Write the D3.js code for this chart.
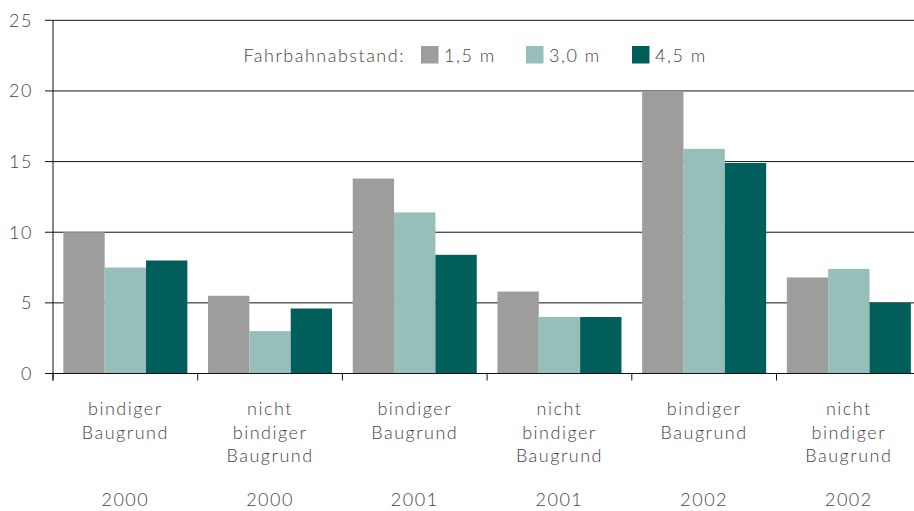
<!DOCTYPE html>
<html>
<head>
<meta charset="utf-8">
<script src="https://cdn.jsdelivr.net/npm/d3@7"></script>
<style>
  body { margin: 0; background: #fff; }
  svg text { font-family: Lato, "DejaVu Sans", sans-serif; font-weight: 300; fill: #444; letter-spacing: 1.5px; }
</style>
</head>
<body>
<div id="chart"></div>
<script>
// chart data
var categories = ["bindiger\nBaugrund", "nicht\nbindiger\nBaugrund", "bindiger\nBaugrund",
                  "nicht\nbindiger\nBaugrund", "bindiger\nBaugrund", "nicht\nbindiger\nBaugrund"];
var years = ["2000", "2000", "2001", "2001", "2002", "2002"];
var seriesNames = ["1,5 m", "3,0 m", "4,5 m"];
var values15 = [10.0, 5.5, 13.8, 5.8, 20.0, 6.8];
var values30 = [7.5, 3.0, 11.4, 4.0, 15.9, 7.4];
var values45 = [8.0, 4.6, 8.4, 4.0, 14.9, 5.0];
var yTicks = [0, 5, 10, 15, 20, 25];
var colors = ["#9d9d9b", "#96bfba", "#005f5a"];

var width = 914, height = 511;
var plotLeft = 53, plotTop = 20.3, plotBottom = 373.5;

var svg = d3.select("#chart").append("svg")
    .attr("width", width).attr("height", height);

var y = d3.scaleLinear().domain([0, 25]).range([plotBottom, plotTop]);

// groups are a bit wider than the window, last one is cut at the edge
var x0 = d3.scaleBand().domain(d3.range(categories.length)).range([plotLeft, plotLeft + 6 * 144.7]);
var x1 = d3.scaleBand().domain(d3.range(3)).range([0, x0.bandwidth()]).paddingOuter(0.25);

var allValues = [values15, values30, values45];

// grid lines
svg.append("g").selectAll("line").data(yTicks).enter().append("line")
    .attr("x1", plotLeft - 8).attr("x2", width)
    .attr("y1", function(d) { return y(d); })
    .attr("y2", function(d) { return y(d); })
    .attr("stroke", "#111").attr("stroke-width", 1);

// y labels
svg.append("g").selectAll("text").data(yTicks).enter().append("text")
    .attr("x", 33).attr("y", function(d) { return y(d); })
    .attr("dy", "0.36em")
    .attr("text-anchor", "end")
    .style("font-size", "18px")
    .text(function(d) { return d; });

// bars
var groups = svg.append("g").selectAll("g").data(categories).enter().append("g")
    .attr("transform", function(d, i) { return "translate(" + x0(i) + ",0)"; });

groups.selectAll("rect")
    .data(function(d, i) { return allValues.map(function(s, k) { return { k: k, v: s[i] }; }); })
    .enter().append("rect")
    .attr("x", function(d) { return x1(d.k); })
    .attr("width", x1.bandwidth())
    .attr("y", function(d) { return y(d.v); })
    .attr("height", function(d) { return y(0) - y(d.v); })
    .attr("fill", function(d) { return colors[d.k]; });

// axes lines
svg.append("line").attr("x1", plotLeft).attr("x2", plotLeft).attr("y1", plotTop).attr("y2", plotBottom + 7)
    .attr("stroke", "#111");
svg.append("line").attr("x1", plotLeft - 8).attr("x2", width).attr("y1", plotBottom).attr("y2", plotBottom)
    .attr("stroke", "#111");

// x ticks at group boundaries
svg.append("g").selectAll("line").data(d3.range(categories.length)).enter().append("line")
    .attr("x1", function(d) { return x0(d); })
    .attr("x2", function(d) { return x0(d); })
    .attr("y1", plotBottom).attr("y2", plotBottom + 7)
    .attr("stroke", "#111");

// category labels
groups.append("text")
    .attr("text-anchor", "middle")
    .style("font-size", "18px")
    .selectAll("tspan")
    .data(function(d) { return d.split("\n"); })
    .enter().append("tspan")
    .attr("x", x0.bandwidth() / 2)
    .attr("y", function(d, i) { return 415 + i * 23.5; })
    .text(function(d) { return d; });

groups.append("text")
    .attr("x", x0.bandwidth() / 2)
    .attr("y", 506)
    .attr("text-anchor", "middle")
    .style("font-size", "18px")
    .text(function(d, i) { return years[i]; });

// legend
var legend = svg.append("g");
legend.append("text").attr("x", 405).attr("y", 62).attr("text-anchor", "end")
    .style("font-size", "18px").text("Fahrbahnabstand:");
var legendX = [421, 526, 632];
seriesNames.forEach(function(name, k) {
    legend.append("rect").attr("x", legendX[k]).attr("y", 46)
        .attr("width", 17.5).attr("height", 17.5).attr("fill", colors[k]);
    legend.append("text").attr("x", legendX[k] + 23).attr("y", 62)
        .style("font-size", "18px").text(name);
});
</script>
</body>
</html>
